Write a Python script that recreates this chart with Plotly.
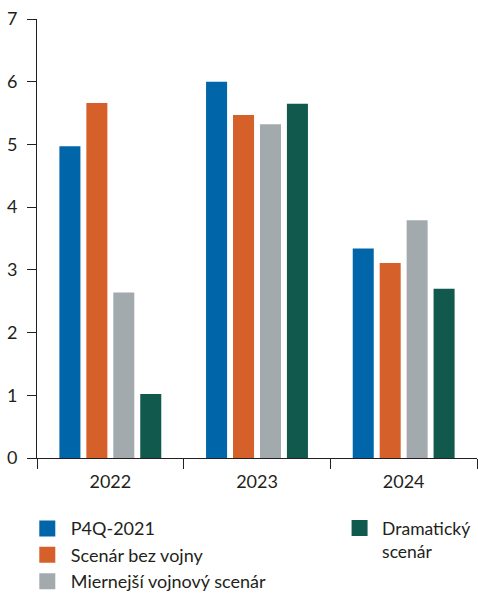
import plotly.graph_objects as go

# Years on the category axis
years = ["2022", "2023", "2024"]

# Scenario series (values per year)
p4q_2021 = [4.97, 6.00, 3.34]
bez_vojny = [5.66, 5.47, 3.11]
miernejsi = [2.64, 5.32, 3.79]
dramaticky = [1.02, 5.65, 2.70]

series_names = ["P4Q-2021", "Scenár bez vojny", "Miernejší vojnový scenár", "Dramatický<br>scenár"]
series_values = [p4q_2021, bez_vojny, miernejsi, dramaticky]
series_colors = ["#0066A9", "#D6602A", "#A3AAAD", "#11594D"]
series_legends = ["legend", "legend", "legend", "legend2"]

y_ticks = [0, 1, 2, 3, 4, 5, 6, 7]

FONT = "Lato, 'Open Sans', sans-serif"
TEXT = "#231F20"

fig = go.Figure()

for name, vals, col in zip(series_names, series_values, series_colors):
    fig.add_trace(go.Bar(
        x=years, y=vals, name=name,
        marker=dict(color=col, line=dict(width=0)),
        showlegend=False,
    ))

# Legend entries drawn as square markers
for i, (name, col, lg) in enumerate(zip(series_names, series_colors, series_legends)):
    fig.add_trace(go.Scatter(
        x=[None], y=[None], mode="markers", name=name,
        marker=dict(symbol="square", size=16, color=col),
        legend=lg, legendgroup=f"g{i}",
    ))

legend_common = dict(
    yref="container", xref="paper", yanchor="top", xanchor="left",
    bgcolor="rgba(0,0,0,0)", itemclick=False,
)

fig.update_layout(
    width=478, height=594,
    margin=dict(l=37, r=1, t=19, b=136, autoexpand=False),
    paper_bgcolor="white", plot_bgcolor="white",
    font=dict(family=FONT, size=18, color=TEXT),
    barmode="group", bargap=0.265, bargroupgap=0.22,
    legend=dict(x=-0.03, y=0.141, orientation="v", tracegroupgap=0, itemwidth=37,
                font=dict(family=FONT, size=18, color=TEXT), **legend_common),
    legend2=dict(x=0.682, y=0.141, valign="top", itemwidth=35,
                 font=dict(family=FONT, size=17.5, color=TEXT), **legend_common),
    xaxis=dict(
        showline=True, linecolor=TEXT, linewidth=1,
        ticks="outside", tickson="boundaries", ticklen=10, tickcolor=TEXT,
        ticklabelstandoff=7,
        tickfont=dict(family=FONT, size=18, color=TEXT),
        showgrid=False, zeroline=False,
    ),
    yaxis=dict(
        range=[0, 7], tickvals=y_ticks,
        showline=True, linecolor=TEXT, linewidth=1,
        ticks="outside", ticklen=9, tickcolor=TEXT,
        ticklabelstandoff=6,
        tickfont=dict(family=FONT, size=18, color=TEXT),
        showgrid=False, zeroline=False,
    ),
)

fig.write_html("out.html")
